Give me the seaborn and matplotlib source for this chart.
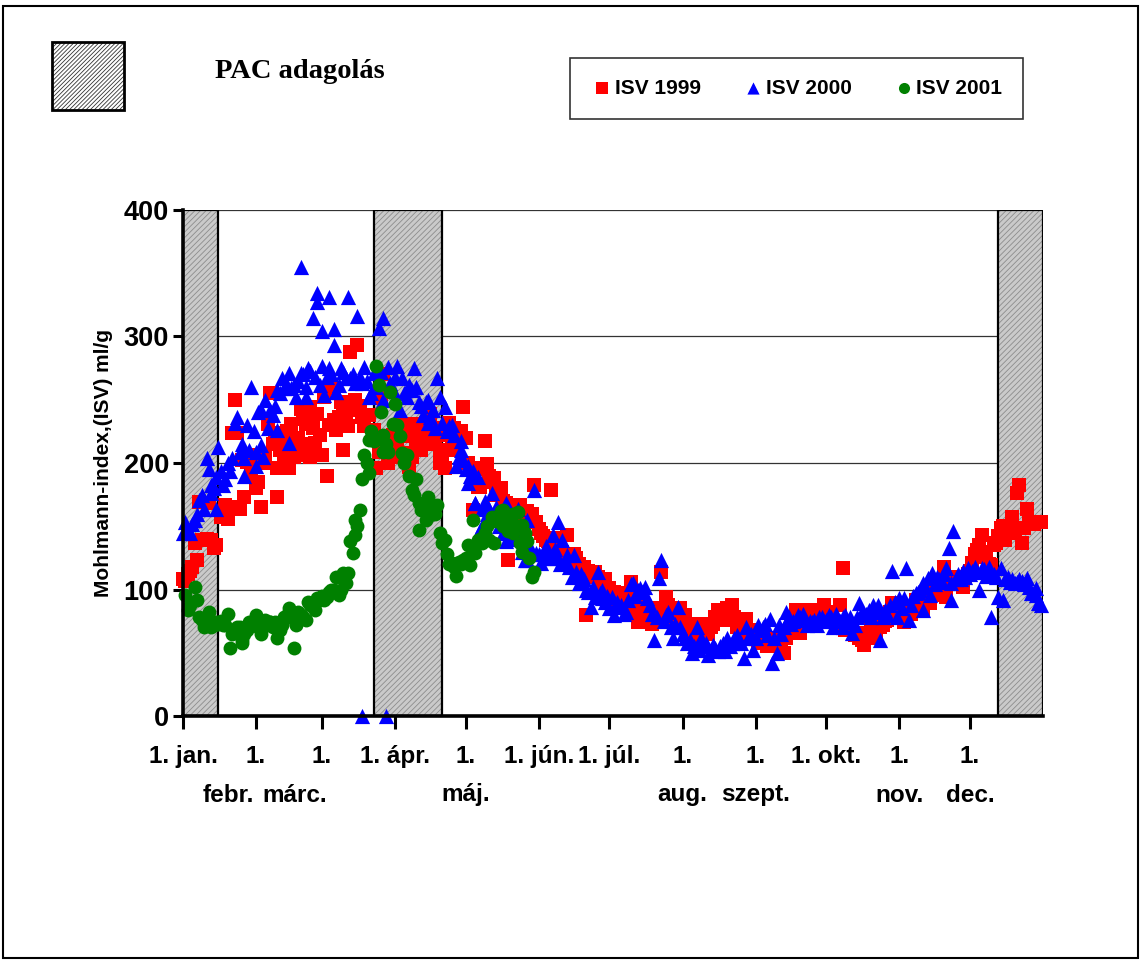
import matplotlib
matplotlib.use("Agg")
import matplotlib.pyplot as plt
from matplotlib.patches import Rectangle
from matplotlib.transforms import blended_transform_factory, offset_copy
import seaborn as sns
import pandas as pd

# ---------------- data (day of year, ISV ml/g) ----------------
days_1999 = [0, 1, 2, 3, 4, 5, 6, 7, 8, 10, 11, 12, 13, 14, 16, 17, 18, 19, 20, 21, 22, 23, 24, 25, 26, 27, 28, 30, 31, 33,
             35, 36, 37, 39, 40, 40, 41, 42, 44, 45, 46, 47, 48, 50, 52, 52, 54, 54, 56, 57, 59, 60, 61, 63, 64, 66, 67, 68, 68, 70,
             71, 72, 74, 75, 76, 77, 79, 81, 82, 83, 84, 85, 86, 87, 89, 89, 90, 92, 93, 95, 96, 96, 98, 99, 101, 102, 103, 105, 106, 107,
             109, 109, 111, 113, 115, 117, 119, 120, 121, 122, 123, 124, 125, 126, 128, 129, 130, 131, 132, 134, 135, 136, 138, 139, 140, 141, 143, 145, 147, 148,
             149, 150, 152, 154, 156, 157, 158, 160, 161, 163, 164, 166, 167, 168, 170, 171, 172, 174, 175, 176, 178, 179, 180, 181, 183, 185, 186, 187, 188, 190,
             191, 193, 193, 194, 195, 197, 199, 200, 202, 203, 205, 206, 208, 210, 211, 212, 213, 214, 215, 217, 219, 221, 223, 224, 225, 226, 227, 228, 230, 231,
             233, 235, 236, 238, 239, 241, 243, 245, 246, 248, 249, 250, 252, 253, 255, 256, 258, 260, 261, 262, 263, 264, 266, 268, 270, 272, 274, 276, 278, 279,
             280, 281, 282, 284, 286, 287, 289, 290, 292, 294, 296, 297, 299, 301, 302, 304, 306, 307, 309, 310, 312, 313, 314, 315, 316, 317, 318, 320, 321, 323,
             324, 325, 327, 328, 329, 331, 332, 334, 335, 336, 337, 339, 340, 341, 342, 343, 344, 345, 347, 348, 349, 350, 351, 352, 353, 354, 355, 356, 357, 358,
             359, 361, 362, 364,
             29, 32, 34, 38, 43, 49, 51, 53, 55, 58, 62, 65, 69, 73,
             91, 94, 97, 100, 104, 108, 110, 112, 114, 116, 118, 127, 133, 137, 142, 144, 146, 151, 153, 155, 159, 162, 165, 169, 173, 177,
             182, 184, 189, 192, 196, 198, 201, 204, 207, 209, 216, 218, 220, 222, 229, 232, 234, 237, 240, 242, 244, 247, 251, 254, 257, 259,
             265, 267, 269, 271, 273, 275, 277, 283, 285, 288, 291, 293, 295, 298, 300, 303, 305, 308, 311, 319, 322, 326, 330, 333, 338, 346]
isv_1999 = [108, 107, 112, 115, 118, 137, 123, 169, 139, 140, 168, 139, 133, 135, 157, 160, 167, 156, 165, 224, 250, 224, 164, 202, 173, 201, 206, 197, 180, 165,
            205, 231, 255, 224, 196, 173, 210, 216, 225, 196, 231, 205, 216, 243, 231, 206, 205, 244, 216, 239, 206, 252, 190, 259, 234, 236, 248, 210, 240, 229,
            288, 242, 293, 245, 236, 229, 238, 226, 196, 209, 251, 270, 215, 200, 222, 213, 205, 221, 230, 221, 208, 197, 231, 215, 210, 218, 232, 239, 225, 215,
            210, 200, 196, 232, 228, 221, 244, 220, 200, 195, 163, 196, 181, 181, 217, 199, 190, 185, 188, 180, 180, 170, 123, 165, 165, 160, 167, 157, 155, 160,
            183, 153, 145, 139, 179, 141, 135, 125, 130, 143, 122, 128, 125, 120, 118, 80, 115, 112, 114, 110, 105, 108, 100, 101, 98, 97, 90, 94, 90, 106,
            95, 92, 74, 85, 76, 78, 73, 80, 85, 114, 94, 88, 80, 76, 85, 75, 80, 70, 60, 65, 73, 68, 65, 70, 73, 78, 84, 80, 81, 85,
            88, 70, 75, 72, 77, 68, 62, 60, 58, 55, 62, 58, 60, 55, 50, 62, 72, 84, 78, 66, 81, 72, 84, 75, 78, 88, 80, 75, 70, 88,
            117, 68, 72, 70, 66, 62, 56, 65, 70, 62, 70, 72, 76, 89, 80, 78, 74, 80, 81, 85, 89, 90, 84, 92, 95, 89, 98, 100, 105, 118,
            94, 105, 110, 108, 104, 102, 110, 115, 121, 128, 131, 143, 130, 126, 120, 119, 135, 137, 149, 150, 139, 145, 149, 157, 148, 176, 183, 137, 149, 164,
            153, 152, 153, 153,
            190, 185, 200, 215, 205, 220, 235, 215, 228, 222, 230, 226, 240, 250,
            212, 226, 205, 225, 220, 228, 205, 222, 215, 210, 225, 195, 175, 168, 158, 150, 162, 148, 142, 138, 132, 128, 118, 115, 110, 106,
            95, 92, 88, 82, 80, 77, 78, 82, 75, 72, 68, 70, 72, 66, 76, 82, 78, 68, 65, 64, 58, 60, 56, 58, 66, 76,
            80, 82, 80, 84, 82, 78, 74, 68, 64, 60, 66, 68, 72, 75, 82, 84, 80, 86, 92, 96, 100, 104, 106, 112, 135, 142]

days_2000 = [0, 1, 3, 4, 6, 7, 9, 10, 12, 12, 14, 14, 15, 16, 17, 18, 20, 21, 22, 23, 24, 26, 26, 29, 31, 31, 33, 33, 34, 37,
             38, 40, 40, 42, 43, 45, 45, 46, 48, 50, 50, 52, 52, 53, 54, 55, 57, 57, 59, 59, 60, 62, 62, 64, 64, 65, 65, 67, 69, 70,
             71, 73, 74, 76, 76, 77, 79, 81, 83, 85, 85, 86, 87, 88, 91, 92, 93, 95, 96, 97, 98, 100, 104, 104, 106, 107, 108, 109, 110, 111,
             113, 115, 116, 118, 118, 121, 121, 123, 124, 124, 125, 126, 127, 127, 130, 131, 137, 137, 140, 142, 145, 146, 146, 149, 150, 152, 154, 157, 157, 159,
             159, 161, 163, 164, 166, 167, 170, 173, 174, 175, 176, 178, 178, 182, 183, 185, 187, 189, 190, 191, 193, 194, 196, 197, 199, 200, 201, 202, 203, 205,
             208, 209, 210, 211, 213, 216, 218, 220, 222, 223, 226, 227, 230, 231, 233, 236, 238, 239, 240, 242, 244, 247, 248, 249, 250, 252, 254, 256, 258, 261,
             263, 265, 270, 274, 276, 277, 280, 280, 283, 284, 287, 290, 293, 295, 296, 297, 299, 301, 303, 304, 306, 307, 308, 311, 314, 314, 316, 317, 318, 321,
             324, 325, 326, 326, 327, 331, 333, 336, 338, 339, 341, 343, 346, 347, 348, 350, 352, 355, 358, 360, 362, 363, 364,
             2, 5, 8, 11, 13, 19, 25, 27, 28, 30, 32, 35, 36, 39, 41, 44, 47, 49, 51, 56, 58, 61, 63, 66, 68, 72, 75, 78, 80, 82,
             84, 89, 90, 94, 99, 101, 102, 103, 105, 112, 114, 117, 119, 120, 122, 128, 129, 132, 133, 134, 135, 136, 138, 139, 141, 143, 144, 147, 148, 151,
             153, 155, 156, 158, 160, 162, 165, 168, 169, 171, 172, 177, 179, 180, 181, 184, 186, 188, 192, 195, 198, 204, 206, 207, 212, 214, 215, 217, 219, 221,
             224, 225, 228, 229, 232, 234, 235, 237, 241, 243, 245, 246, 251, 253, 255, 257, 259, 260, 262, 264, 266, 267, 268, 269, 271, 272, 273, 275, 278, 279,
             281, 282, 285, 286, 288, 289, 291, 292, 294, 298, 300, 302, 305, 309, 310, 312, 313, 315, 319, 320, 322, 323, 328, 329, 330, 332, 334, 335, 337, 340,
             342, 344, 345, 349, 351, 353, 354, 356, 357, 359, 361, 362]
isv_2000 = [145, 153, 145, 152, 160, 171, 164, 204, 183, 176, 189, 164, 213, 194, 183, 187, 194, 204, 232, 236, 209, 204, 190, 260, 198, 209, 214, 242, 205, 242,
            238, 258, 226, 267, 259, 216, 271, 259, 252, 271, 355, 260, 252, 275, 273, 315, 334, 327, 304, 277, 254, 331, 275, 293, 306, 256, 256, 275, 267, 331,
            267, 263, 316, 0, 263, 276, 252, 271, 307, 315, 250, 0, 276, 263, 277, 242, 267, 252, 262, 258, 275, 248, 232, 250, 242, 228, 267, 252, 232, 244,
            229, 222, 198, 217, 210, 198, 184, 194, 168, 168, 189, 147, 164, 150, 164, 176, 168, 138, 150, 164, 123, 155, 123, 179, 129, 121, 134, 129, 143, 125,
            153, 139, 127, 118, 127, 114, 108, 86, 102, 94, 114, 93, 100, 94, 80, 86, 81, 92, 104, 105, 100, 101, 102, 93, 81, 60, 78, 109, 123, 80,
            62, 73, 86, 70, 62, 50, 70, 62, 58, 48, 54, 51, 51, 62, 58, 60, 46, 70, 62, 52, 72, 73, 64, 77, 42, 50, 65, 82, 73, 80,
            81, 72, 78, 80, 70, 81, 78, 70, 78, 66, 89, 81, 88, 88, 60, 78, 80, 115, 78, 93, 93, 117, 76, 97, 84, 105, 109, 96, 113, 108,
            117, 133, 105, 92, 146, 115, 117, 118, 100, 117, 111, 78, 94, 117, 92, 110, 108, 108, 109, 97, 101, 89, 88,
            148, 155, 175, 195, 180, 200, 215, 230, 210, 225, 240, 250, 228, 245, 255, 262, 262, 265, 270, 268, 262, 268, 270, 262, 272, 270, 268, 265, 255, 260,
            272, 258, 268, 255, 260, 245, 238, 248, 236, 225, 230, 205, 202, 195, 190, 170, 160, 158, 165, 150, 155, 145, 148, 140, 145, 140, 130, 135, 128, 128,
            125, 130, 125, 132, 120, 122, 110, 105, 112, 100, 98, 97, 90, 95, 85, 90, 88, 82, 95, 98, 88, 75, 82, 70, 65, 58, 60, 55, 52, 55,
            52, 56, 55, 58, 55, 62, 64, 58, 65, 62, 68, 70, 62, 72, 70, 78, 75, 76, 78, 76, 75, 74, 76, 72, 78, 75, 76, 78, 76, 75,
            80, 74, 72, 78, 82, 80, 84, 78, 82, 84, 88, 90, 85, 88, 95, 98, 100, 102, 104, 110, 106, 112, 108, 112, 108, 110, 112, 115, 114, 116,
            118, 112, 110, 108, 106, 105, 106, 107, 104, 102, 98, 96]

days_2001 = [1, 2, 5, 6, 7, 9, 11, 12, 14, 15, 17, 19, 20, 22, 23, 25, 25, 26, 28, 31, 31, 33, 34, 37, 37, 40, 42, 42, 45, 47,
             48, 48, 51, 52, 53, 55, 56, 57, 58, 60, 61, 63, 64, 65, 66, 66, 68, 69, 70, 71, 72, 73, 73, 75, 76, 77, 79, 79, 81, 82,
             83, 85, 85, 87, 88, 89, 90, 91, 92, 93, 94, 95, 96, 97, 99, 100, 100, 101, 104, 105, 107, 108, 110, 111, 114, 116, 117, 119, 122, 123,
             124, 125, 125, 127, 130, 131, 132, 133, 136, 136, 138, 138, 140, 140, 142, 143, 144, 144, 145, 146, 148, 149,
             3, 8, 10, 13, 16, 18, 21, 24, 27, 29, 30, 32, 35, 36, 38, 39, 41, 43, 44, 46, 49, 50, 54, 59, 62, 67, 74, 78, 80, 84,
             86, 98, 102, 103, 106, 109, 112, 113, 115, 118, 120, 121, 126, 128, 129, 134, 135, 137, 139, 141, 147]
isv_2001 = [96, 84, 102, 92, 78, 70, 82, 70, 74, 73, 72, 81, 54, 68, 70, 60, 58, 65, 74, 80, 78, 65, 73, 74, 74, 62, 72, 74, 85, 54,
            73, 72, 78, 76, 90, 86, 84, 93, 92, 92, 94, 100, 100, 110, 96, 110, 113, 105, 113, 138, 129, 143, 155, 163, 187, 206, 192, 218, 217, 277,
            262, 209, 222, 209, 256, 231, 247, 230, 221, 208, 200, 206, 190, 179, 187, 168, 147, 163, 173, 159, 160, 167, 137, 139, 121, 111, 122, 123, 119, 155,
            129, 137, 139, 137, 139, 157, 137, 154, 163, 150, 157, 146, 160, 145, 161, 137, 151, 130, 145, 138, 110, 114,
            88, 76, 74, 72, 75, 72, 65, 70, 68, 72, 75, 70, 76, 72, 70, 74, 68, 78, 80, 78, 82, 80, 88, 95, 98, 100, 150, 200, 225, 240,
            215, 175, 165, 155, 165, 145, 128, 120, 118, 120, 125, 135, 140, 145, 150, 158, 162, 150, 155, 150, 125]

series_names = ["ISV 1999", "ISV 2000", "ISV 2001"]

band_start = [0, 81, 346]
band_end = [15, 110, 365]

month_days = [0, 31, 59, 90, 120, 151, 181, 212, 243, 273, 304, 334]
month_line1 = ["1. jan.", "1.", "1.", "1. ápr.", "1.", "1. jún.", "1. júl.", "1.", "1.", "1. okt.", "1.", "1."]
month_line2 = ["", "febr.", "márc.", "", "máj.", "", "", "aug.", "szept.", "", "nov.", "dec."]
y_ticks = [0, 100, 200, 300, 400]

# ---------------- styling ----------------
sns.set_theme(style="white")
plt.rcParams["font.family"] = ["Liberation Sans", "DejaVu Sans"]
plt.rcParams["hatch.linewidth"] = 0.6
for key in ["text.color", "axes.labelcolor", "xtick.color", "ytick.color"]:
    plt.rcParams[key] = "black"

W, H = 1141, 960
fig = plt.figure(figsize=(W / 100, H / 100), dpi=100)
fig.patch.set_facecolor("white")

ax_l, ax_r, ax_t, ax_b = 183, 1043, 210, 716
ax = fig.add_axes([ax_l / W, 1 - ax_b / H, (ax_r - ax_l) / W, (ax_b - ax_t) / H])
ax.set_facecolor("white")

# bands (PAC dosing periods)
for s, e in zip(band_start, band_end):
    ax.axvspan(s, e, facecolor="#cacaca", edgecolor="#8c8c8c", hatch="//////", lw=0, zorder=1)
    ax.axvspan(s, e, fill=False, edgecolor="black", lw=1.6, zorder=1.2)

df99 = pd.DataFrame({"day": days_1999, "isv": isv_1999})
df00 = pd.DataFrame({"day": days_2000, "isv": isv_2000})
df01 = pd.DataFrame({"day": days_2001, "isv": isv_2001})

sns.scatterplot(data=df99, x="day", y="isv", marker="s", color="#ff0000", s=100, linewidth=0,
                label=series_names[0], ax=ax, zorder=3, clip_on=False)
sns.scatterplot(data=df00, x="day", y="isv", marker="^", color="#0000ff", s=120, linewidth=0,
                label=series_names[1], ax=ax, zorder=4, clip_on=False)
sns.scatterplot(data=df01, x="day", y="isv", marker="o", color="#008000", s=100, linewidth=0,
                label=series_names[2], ax=ax, zorder=5, clip_on=False)

ax.set_xlim(0, 365)
ax.set_ylim(0, 400)
ax.set_yticks(y_ticks)
ax.set_yticklabels([str(v) for v in y_ticks], fontsize=19.5, fontweight="bold", color="black")
ax.yaxis.grid(True, color="#333333", lw=0.9)
ax.set_axisbelow(True)
ax.set_xticks(month_days)
ax.set_xticklabels(month_line1, fontsize=17.5, fontweight="bold", color="black")
ax.tick_params(axis="x", direction="out", length=9, width=2.2, pad=12, color="black", bottom=True)
ax.tick_params(axis="y", direction="out", length=7, width=2.2, pad=3, color="black", left=True)
for side in ["top", "right"]:
    ax.spines[side].set_visible(False)
for side in ["left", "bottom"]:
    ax.spines[side].set_color("black")
    ax.spines[side].set_linewidth(2.6)
    ax.spines[side].set_zorder(6)

ax.set_xlabel("")
ax.set_ylabel("Mohlmann-index,(ISV) ml/g", fontsize=15, fontweight="bold", color="black")
ax.yaxis.set_label_coords(-(ax_l - 113) / (ax_r - ax_l), 0.5)

# second line of month labels
trans = blended_transform_factory(ax.transData, ax.transAxes)
shift_px = {"febr.": -28, "márc.": -27}
for d, txt in zip(month_days, month_line2):
    if txt:
        t = offset_copy(trans, fig=fig, x=shift_px.get(txt, 0), y=0, units="dots")
        ax.text(d, -(795 - ax_b) / (ax_b - ax_t), txt, transform=t, ha="center", va="center",
                fontsize=17.5, fontweight="bold", color="black")

# legend box
leg = ax.legend(loc="upper left", bbox_to_anchor=(570 / W, 1 - 118 / H, (1023 - 570) / W, 60 / H),
                bbox_transform=fig.transFigure, mode="expand", ncol=3, frameon=True, fancybox=False,
                markerscale=0.8, handletextpad=0.05, borderpad=1.0, columnspacing=1.0, handlelength=1.1,
                prop={"weight": "bold", "size": 15}, borderaxespad=0)
leg.get_frame().set_edgecolor("black")
leg.get_frame().set_linewidth(1.2)
leg.get_frame().set_boxstyle("square", pad=0)
for txt in leg.get_texts():
    txt.set_color("black")

# PAC legend patch and title
fig.patches.append(Rectangle((52 / W, 1 - 110 / H), 72 / W, 68 / H, transform=fig.transFigure,
                             facecolor="white", edgecolor="#333333", hatch="////////", lw=0, zorder=1))
fig.patches.append(Rectangle((52 / W, 1 - 110 / H), 72 / W, 68 / H, transform=fig.transFigure,
                             fill=False, edgecolor="black", lw=2, zorder=2))
fig.text(215 / W, 1 - 72 / H, "PAC adagolás", family=["Liberation Serif", "DejaVu Serif"],
         fontsize=20.5, fontweight="bold", ha="left", va="center", color="black")

# outer border
fig.patches.append(Rectangle((3 / W, 2 / H), 1 - 6 / W, 1 - 8 / H, transform=fig.transFigure,
                             fill=False, edgecolor="black", lw=1.5, zorder=0))

fig.savefig("out.png", dpi=100, facecolor="white")
